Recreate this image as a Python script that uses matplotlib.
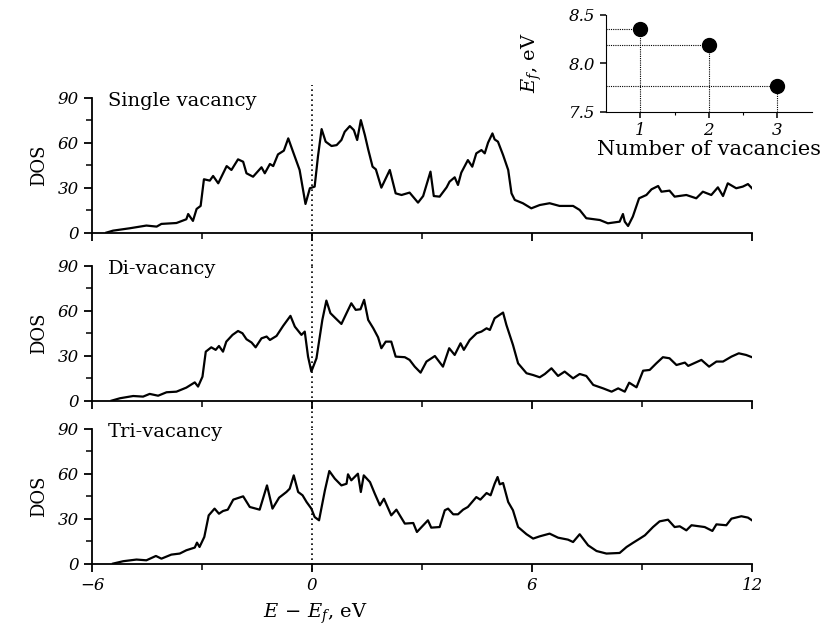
import matplotlib
matplotlib.use("Agg")
import matplotlib.pyplot as plt
import numpy as np

plt.rcParams['font.family'] = 'DejaVu Serif'
plt.rcParams['mathtext.fontset'] = 'dejavuserif'

# DOS, single vacancy
e1 = [-5.61, -5.43, -4.97, -4.52, -4.24, -4.11, -3.70, -3.43, -3.38, -3.25, -3.15, -3.04,
      -2.95, -2.79, -2.70, -2.56, -2.33, -2.20, -2.02, -1.88, -1.79, -1.61, -1.38, -1.29,
      -1.15, -1.06, -0.93, -0.77, -0.65, -0.52, -0.34, -0.18, -0.06, 0.07, 0.16, 0.26,
      0.37, 0.53, 0.67, 0.80, 0.89, 1.03, 1.14, 1.23, 1.33, 1.44, 1.53, 1.65, 1.74, 1.89,
      2.12, 2.28, 2.44, 2.66, 2.89, 3.03, 3.23, 3.32, 3.48, 3.67, 3.75, 3.89, 3.98, 4.07,
      4.25, 4.37, 4.48, 4.62, 4.71, 4.80, 4.92, 4.98, 5.07, 5.21, 5.35, 5.44, 5.53, 5.75,
      5.98, 6.21, 6.48, 6.75, 7.12, 7.30, 7.48, 7.85, 8.07, 8.39, 8.48, 8.53, 8.62, 8.75,
      8.92, 9.12, 9.26, 9.44, 9.53, 9.75, 9.89, 10.21, 10.48, 10.66, 10.89, 11.07, 11.21,
      11.34, 11.57, 11.75, 11.89, 12.0]
d1 = [0, 1.3, 2.9, 4.7, 4.0, 5.8, 6.4, 8.9, 12.4, 7.8, 15.8, 17.8,
      35.6, 34.7, 37.8, 32.9, 44.4, 41.8, 48.9, 47.3, 39.6, 37.3, 43.6, 39.6,
      45.8, 44.4, 52.2, 54.7, 62.9, 54.0, 41.8, 19.1, 29.6, 30.7, 50.7, 69.1,
      60.7, 57.8, 58.4, 61.8, 67.3, 71.1, 68.4, 61.8, 75.1, 65.1, 55.6, 44.0, 42.2, 30.0,
      41.8, 26.2, 25.1, 26.7, 20.0, 24.4, 40.7, 24.4, 24.0, 30.2, 34.0, 36.9, 31.8, 40.0,
      48.4, 44.0, 52.9, 55.1, 52.9, 60.0, 66.2, 62.2, 60.7, 51.8, 41.8, 26.2, 21.8, 19.6,
      16.2, 18.4, 19.6, 17.8, 17.8, 15.1, 9.6, 8.4, 6.2, 7.3, 12.4, 7.3, 4.4, 10.7,
      22.9, 25.1, 28.9, 31.1, 27.3, 28.0, 24.0, 25.1, 22.9, 27.3, 25.1, 30.2, 24.4,
      32.9, 29.6, 30.7, 32.4, 29.6]

# DOS, di-vacancy
e2 = [-5.47, -5.24, -4.88, -4.61, -4.43, -4.20, -3.97, -3.70, -3.43, -3.20, -3.11, -2.99,
      -2.90, -2.75, -2.63, -2.54, -2.43, -2.34, -2.17, -2.02, -1.90, -1.79, -1.65, -1.54,
      -1.38, -1.24, -1.15, -0.97, -0.79, -0.59, -0.47, -0.29, -0.20, -0.11, -0.02, 0.12,
      0.28, 0.39, 0.50, 0.64, 0.80, 0.94, 1.07, 1.19, 1.32, 1.42, 1.53, 1.67, 1.80, 1.89,
      2.01, 2.16, 2.28, 2.53, 2.66, 2.80, 2.96, 3.12, 3.35, 3.57, 3.74, 3.89, 4.05, 4.14,
      4.30, 4.49, 4.62, 4.76, 4.85, 4.98, 5.21, 5.30, 5.48, 5.62, 5.85, 6.03, 6.21, 6.35,
      6.53, 6.71, 6.89, 7.12, 7.30, 7.48, 7.67, 7.94, 8.17, 8.35, 8.53, 8.65, 8.85, 9.03,
      9.21, 9.39, 9.57, 9.75, 9.94, 10.17, 10.26, 10.62, 10.83, 11.03, 11.21, 11.44, 11.64,
      11.84, 12.0]
d2 = [0, 1.6, 3.1, 2.7, 4.5, 3.3, 5.6, 6.0, 8.7, 12.2, 9.4, 16.0,
      32.7, 35.6, 33.9, 36.5, 32.7, 39.4, 43.9, 46.5, 45.0, 41.0, 38.8, 35.6,
      41.6, 42.8, 40.5, 43.2, 49.9, 56.6, 49.4, 43.9, 46.1, 29.4, 19.4, 28.3,
      53.9, 66.8, 58.4, 55.0, 51.2, 58.4, 65.0, 60.6, 61.0, 67.3, 53.9, 48.3, 42.3, 35.0,
      39.4, 39.4, 29.4, 29.0, 27.2, 22.7, 18.7, 26.1, 29.8, 22.7, 35.0, 30.5, 38.3, 33.9,
      40.5, 45.0, 46.1, 48.3, 47.2, 55.0, 58.8, 50.6, 37.2, 24.9, 18.3, 17.1, 15.6, 17.8,
      21.6, 16.5, 19.4, 14.9, 17.8, 16.5, 10.5, 8.2, 6.0, 8.2, 6.0, 12.0, 8.9, 20.0,
      20.5, 24.9, 29.0, 28.3, 23.8, 25.4, 23.2, 27.2, 22.7, 26.1, 26.1, 29.4, 31.6,
      30.5, 29.0]

# DOS, tri-vacancy
e3 = [-5.43, -5.15, -4.79, -4.52, -4.26, -4.11, -3.84, -3.61, -3.43, -3.20, -3.14, -3.07,
      -2.94, -2.82, -2.66, -2.54, -2.43, -2.30, -2.15, -1.88, -1.70, -1.43, -1.23, -1.08,
      -0.90, -0.70, -0.61, -0.50, -0.38, -0.26, -0.15, -0.02, 0.07, 0.19, 0.35, 0.47,
      0.62, 0.80, 0.94, 0.98, 1.07, 1.25, 1.33, 1.41, 1.58, 1.71, 1.85, 1.96, 2.16, 2.30,
      2.53, 2.76, 2.86, 3.16, 3.25, 3.48, 3.62, 3.71, 3.85, 3.98, 4.12, 4.25, 4.48, 4.59,
      4.76, 4.87, 4.98, 5.06, 5.12, 5.21, 5.35, 5.48, 5.62, 5.85, 6.03, 6.21, 6.48, 6.71,
      6.98, 7.12, 7.30, 7.53, 7.76, 8.03, 8.39, 8.58, 8.75, 8.94, 9.08, 9.30, 9.48, 9.71,
      9.89, 10.03, 10.21, 10.35, 10.71, 10.92, 11.03, 11.30, 11.44, 11.71, 11.89, 12.0]
d3 = [0, 1.6, 2.7, 2.2, 5.1, 3.3, 6.0, 6.7, 8.9, 10.7, 14.0, 11.1,
      17.8, 32.2, 36.7, 33.3, 35.1, 36.0, 42.7, 44.9, 37.8, 36.0, 52.2, 36.7,
      44.0, 47.8, 50.0, 58.9, 47.8, 45.6, 41.1, 36.7, 31.1, 28.9, 48.9, 61.8,
      56.7, 52.2, 53.3, 59.6, 55.6, 60.0, 47.8, 58.9, 54.4, 46.7, 38.9, 43.3, 32.2, 36.0,
      26.7, 27.1, 21.1, 28.9, 24.0, 24.4, 35.6, 36.7, 32.9, 32.9, 36.0, 37.8, 44.4, 42.7,
      47.1, 45.6, 53.3, 57.8, 52.9, 53.8, 41.1, 35.6, 24.4, 19.6, 16.7, 18.2, 20.0, 17.3,
      16.0, 14.4, 19.6, 12.2, 8.4, 6.7, 7.1, 11.1, 13.8, 16.7, 18.9, 24.4, 28.2, 29.3,
      24.4, 24.9, 22.2, 25.6, 24.4, 21.8, 26.2, 25.6, 30.0, 31.6, 30.7, 28.9]

labels = ['Single vacancy', 'Di-vacancy', 'Tri-vacancy']

# inset: formation energy
n_vac = [1, 2, 3]
e_form = [8.35, 8.19, 7.77]

fig = plt.figure(figsize=(8.3, 6.39), dpi=100)

bottoms = [0.636, 0.373, 0.118]
vmin = [-0.247, -0.20, -0.05]
vmax = [1.094, 1.0, 1.0]
series = [(e1, d1), (e2, d2), (e3, d3)]

axes = []
for k in range(3):
    ax = fig.add_axes([0.111, bottoms[k], 0.795, 0.211])
    ax.plot(series[k][0], series[k][1], color='black', lw=1.6)
    ax.set_xlim(-6, 12)
    ax.set_ylim(0, 90)
    ax.spines['top'].set_visible(False)
    ax.spines['right'].set_visible(False)
    ax.spines['left'].set_linewidth(1.3)
    ax.spines['bottom'].set_linewidth(1.3)
    ax.set_xticks([-6, 0, 6, 12])
    ax.set_xticks([-3, 3, 9], minor=True)
    ax.set_yticks([0, 30, 60, 90])
    ax.set_yticks([15, 45, 75], minor=True)
    ax.tick_params(which='major', direction='out', length=6, width=1.3, labelsize=12)
    ax.tick_params(which='minor', direction='out', length=4, width=1.1)
    for t in ax.get_yticklabels():
        t.set_fontstyle('italic')
    if k < 2:
        ax.tick_params(axis='x', labelbottom=False)
    else:
        for t in ax.get_xticklabels():
            t.set_fontstyle('italic')
    ax.axvline(0, ymin=vmin[k], ymax=vmax[k], color='black', lw=1.2,
               ls=(0, (1, 2)), clip_on=False)
    ax.text(-5.57, 88, labels[k], fontsize=14, va='center', ha='left')
    ax.set_ylabel('DOS', fontsize=13)
    ax.yaxis.set_label_coords(-0.067, 0.5)
    axes.append(ax)

axes[2].set_xlabel(r'$E\,-\,E_f$, eV', fontsize=14)
axes[2].xaxis.set_label_coords(0.338, -0.28)

# inset
axi = fig.add_axes([0.730, 0.825, 0.248, 0.152])
axi.plot(n_vac, e_form, 'o', color='black', ms=10)
axi.set_xlim(0.5, 3.5)
axi.set_ylim(7.5, 8.5)
for n, e in zip(n_vac, e_form):
    axi.plot([0.5, n], [e, e], color='black', lw=0.8, ls=(0, (1, 1)))
    axi.plot([n, n], [7.5, e], color='black', lw=0.8, ls=(0, (1, 1)))
axi.spines['top'].set_visible(False)
axi.spines['right'].set_visible(False)
axi.set_xticks([1, 2, 3])
axi.set_xticks([1.5, 2.5], minor=True)
axi.set_yticks([7.5, 8.0, 8.5])
axi.tick_params(which='major', direction='out', length=4, width=1.1, labelsize=12)
axi.tick_params(which='minor', direction='out', length=2.5, width=0.8)
for t in axi.get_xticklabels() + axi.get_yticklabels():
    t.set_fontstyle('italic')
axi.set_xlabel('Number of vacancies', fontsize=15)
axi.xaxis.set_label_coords(0.5, -0.29)
axi.set_ylabel(r'$E_f$, eV', fontsize=14)
axi.yaxis.set_label_coords(-0.30, 0.5)

fig.savefig('out.png', dpi=100)
